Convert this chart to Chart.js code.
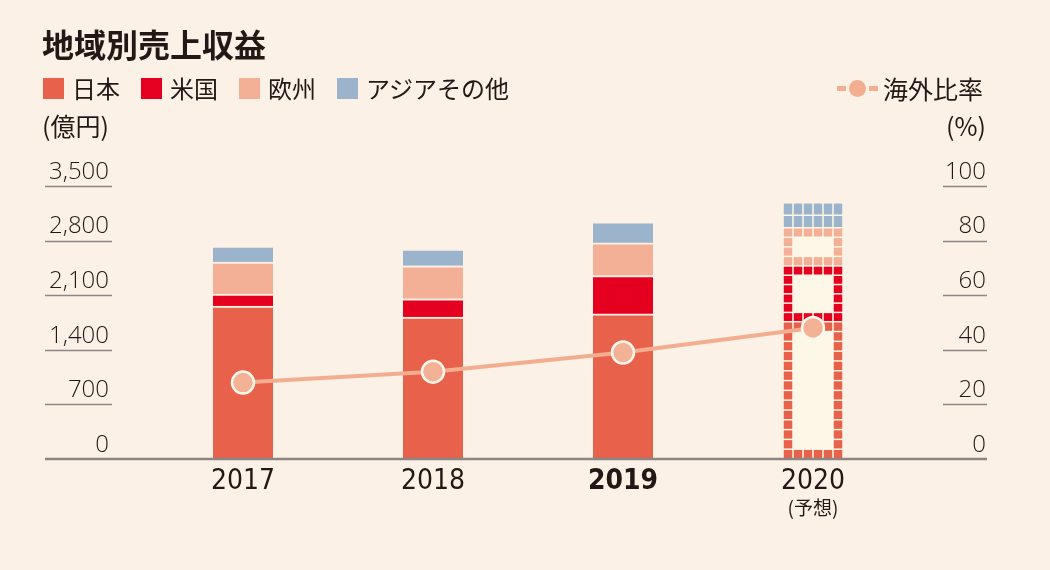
<!DOCTYPE html>
<html>
<head>
<meta charset="utf-8">
<script src="https://cdn.jsdelivr.net/npm/chart.js@4"></script>
<style>
  body { margin: 0; background: #fbf1e6; }
  #wrap { position: relative; width: 1050px; height: 570px; background: #fbf1e6;
          font-family: "Noto Sans CJK JP", "Open Sans", sans-serif; color: #231815; }
  #wrap canvas { position: absolute; left: 0; top: 0; }
  .title { position: absolute; left: 42px; top: 23px; font-size: 32px; font-weight: bold; line-height: 40px; }
  .legend { position: absolute; left: 43px; top: 72px; display: flex; align-items: center; font-size: 24px; line-height: 32px; }
  .legend .item { display: flex; align-items: center; margin-right: 21px; }
  .legend .box { width: 21px; height: 21px; margin-right: 8px; }
  .ratio { position: absolute; left: 837px; top: 72px; display: flex; align-items: center; font-size: 25px; line-height: 32px; }
  .ratio .dash { width: 9px; height: 5px; background: #f3ae91; }
  .ratio .dot { width: 17px; height: 17px; border-radius: 50%; background: #f3ae91; margin: 0 3px; }
  .ratio .txt { margin-left: 5px; }
  .unit { position: absolute; top: 109px; font-size: 25px; line-height: 32px; }
</style>
</head>
<body>
<div id="wrap">
  <canvas id="chart"></canvas>
  <div class="title">地域別売上収益</div>
  <div class="legend" id="legend"></div>
  <div class="ratio"><span class="dash"></span><span class="dot"></span><span class="dash"></span><span class="txt" id="ratioLabel"></span></div>
  <div class="unit" style="left:42px">(億円)</div>
  <div class="unit" style="right:64px">(%)</div>
</div>
<script>
const years = ['2017', '2018', '2019', '2020'];
const forecastNote = '(予想)';
const regionNames = ['日本', '米国', '欧州', 'アジアその他'];
const japan = [1960, 1820, 1860, 1760];
const usa = [155, 235, 490, 715];
const europe = [410, 423, 420, 490];
const asia = [205, 214, 270, 320];
const ratioName = '海外比率';
const overseasRatio = [28, 32, 39, 48];
const yenTicks = [0, 700, 1400, 2100, 2800, 3500];
const pctTicks = [0, 20, 40, 60, 80, 100];

const colors = ['#e8614a', '#e5001f', '#f4b096', '#9bb3cb'];
const bg = '#fbf1e6';
const forecastIdx = 3;
const boldIdx = 2;
const textColor = '#231815';
const numFont = '"Open Sans", "Noto Sans", sans-serif';
const yearFont = '"Liberation Sans Narrow", "DejaVu Sans Condensed", "Open Sans", sans-serif';

// html legend
const legendEl = document.getElementById('legend');
regionNames.forEach((name, i) => {
  const it = document.createElement('div');
  it.className = 'item';
  it.innerHTML = '<span class="box" style="background:' + colors[i] + '"></span><span>' + name + '</span>';
  legendEl.appendChild(it);
});
document.getElementById('ratioLabel').textContent = ratioName;

const regionData = [japan, usa, europe, asia];

const barSets = regionData.map((vals, i) => ({
  type: 'bar',
  label: regionNames[i],
  data: vals,
  yAxisID: 'y',
  order: 1,
  barThickness: 60,
  backgroundColor: ctx => ctx.dataIndex === forecastIdx ? 'rgba(0,0,0,0)' : colors[i],
  borderColor: bg,
  borderWidth: ctx => ctx.dataIndex === forecastIdx ? 0 : { top: 2 },
  tileColor: colors[i]
}));

const lineSet = {
  type: 'line',
  label: ratioName,
  data: overseasRatio,
  yAxisID: 'y1',
  order: 0,
  borderColor: '#f3ae91',
  borderWidth: 4,
  pointRadius: 11,
  pointHoverRadius: 11,
  pointBorderWidth: 2.5,
  pointBackgroundColor: '#f3b195',
  pointBorderColor: '#fdf6ea'
};

const decor = {
  id: 'decor',
  beforeDatasetsDraw(chart) {
    const ctx = chart.ctx;
    ctx.save();
    chart.data.datasets.forEach((ds, i) => {
      if (ds.type !== 'bar') return;
      const el = chart.getDatasetMeta(i).data[forecastIdx];
      if (!el) return;
      const left = el.x - el.width / 2, right = el.x + el.width / 2;
      const top = Math.min(el.y, el.base), bottom = Math.max(el.y, el.base);
      const w = right - left, h = bottom - top;
      ctx.fillStyle = '#fdf7e7';
      ctx.fillRect(left, top, w, h);
      const cols = 6;
      const rows = Math.max(2, Math.round(h / 10));
      const tw = w / cols, th = h / rows;
      ctx.fillStyle = ds.tileColor;
      for (let r = 0; r < rows; r++) {
        for (let c = 0; c < cols; c++) {
          if (r === 0 || r === rows - 1 || c === 0 || c === cols - 1) {
            ctx.fillRect(left + c * tw + 0.75, top + r * th + 0.75, tw - 1.5, th - 1.5);
          }
        }
      }
    });
    ctx.restore();
  },
  afterDraw(chart) {
    const ctx = chart.ctx;
    const y = chart.scales.y, y1 = chart.scales.y1, x = chart.scales.x;
    ctx.save();
    ctx.strokeStyle = '#8b8683';
    ctx.lineWidth = 1.5;
    yenTicks.forEach(v => {
      if (v === 0) return;
      const py = Math.round(y.getPixelForValue(v)) + 0.5;
      ctx.beginPath(); ctx.moveTo(y.left, py); ctx.lineTo(y.right - 36, py); ctx.stroke();
    });
    pctTicks.forEach(v => {
      if (v === 0) return;
      const py = Math.round(y1.getPixelForValue(v)) + 0.5;
      ctx.beginPath(); ctx.moveTo(y1.left + 35, py); ctx.lineTo(y1.right + 1, py); ctx.stroke();
    });
    // baseline
    ctx.lineWidth = 2.5;
    const by = y.getPixelForValue(0);
    ctx.beginPath(); ctx.moveTo(y.left, by); ctx.lineTo(y1.right + 1, by); ctx.stroke();
    // forecast note
    ctx.fillStyle = textColor;
    ctx.font = '19px "Noto Sans CJK JP", sans-serif';
    ctx.textAlign = 'center';
    ctx.textBaseline = 'middle';
    ctx.fillText(forecastNote, x.getPixelForValue(forecastIdx), 508);
    ctx.restore();
  }
};

new Chart(document.getElementById('chart'), {
  data: { labels: years, datasets: [...barSets, lineSet] },
  options: {
    responsive: true,
    maintainAspectRatio: false,
    animation: false,
    layout: { padding: { left: 45, right: 64, top: 186, bottom: 0 } },
    plugins: { legend: { display: false }, tooltip: { enabled: false } },
    scales: {
      x: {
        stacked: true,
        grid: { display: false, drawTicks: false },
        border: { display: false },
        ticks: {
          padding: 6,
          color: textColor,
          font: ctx => ({ family: yearFont, size: 28, weight: ctx.index === boldIdx ? 'bold' : 'normal' })
        },
        afterFit: s => { s.height = 111; }
      },
      y: {
        stacked: true,
        position: 'left',
        min: 0,
        max: 3500,
        grid: { display: false, drawTicks: false },
        border: { display: false },
        afterBuildTicks: s => { s.ticks = yenTicks.map(v => ({ value: v })); },
        ticks: {
          padding: 39,
          labelOffset: -14,
          color: textColor,
          font: { family: numFont, size: 24, weight: '300' },
          callback: v => v.toLocaleString('en-US')
        },
        afterFit: s => { s.width = 103; }
      },
      y1: {
        position: 'right',
        min: 0,
        max: 100,
        grid: { display: false, drawTicks: false },
        border: { display: false },
        afterBuildTicks: s => { s.ticks = pctTicks.map(v => ({ value: v })); },
        ticks: {
          crossAlign: 'far',
          labelOffset: -14,
          color: textColor,
          font: { family: numFont, size: 24, weight: '300' }
        },
        afterFit: s => { s.width = 78; }
      }
    }
  },
  plugins: [decor]
});
</script>
</body>
</html>
